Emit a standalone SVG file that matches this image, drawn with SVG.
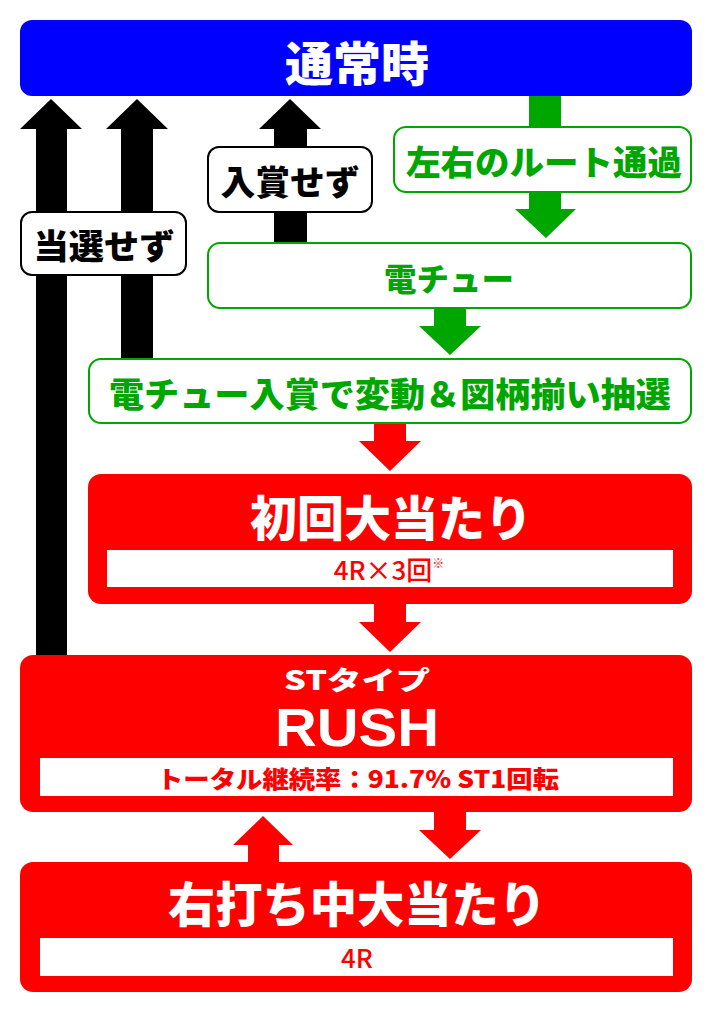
<svg xmlns="http://www.w3.org/2000/svg" width="712" height="1014" viewBox="0 0 712 1014">
<style>
.t{font-family:"Noto Sans CJK JP","Noto Sans",sans-serif;font-weight:900;text-anchor:middle;dominant-baseline:central}
.w{fill:#fff}
.g{fill:#00a600}
.k{fill:#000}
.r{fill:#ff0000}
.gbox{fill:#fff;stroke:#00a600;stroke-width:2}
.kbox{fill:#fff;stroke:#000;stroke-width:2}
.rbox{fill:#ff0000}
.inner{fill:#fff}
.n{font-family:"Noto Sans CJK JP","Noto Sans",sans-serif;font-weight:500;text-anchor:middle;fill:#ff0000}
</style>
<rect width="712" height="1014" fill="#fff"/>
<g id="connectors">
  <polygon class="k" points="36,655 67,655 67,129 82,129 51,99 20,129 36,129"/>
  <polygon class="k" points="121,359 153,359 153,129 168,129 137,99 106,129 121,129"/>
  <polygon class="k" points="274,243 307,243 307,129 321,129 290,99 259,129 274,129"/>
  <rect class="g" x="529" y="95" width="32" height="33"/>
  <polygon class="g" points="529,191 561,191 561,209 576,209 546,238 515,209 529,209"/>
  <polygon class="g" points="434,307 466,307 466,326 481,326 450,355 419,326 434,326"/>
  <polygon class="r" points="374,422 406,422 406,441 421,441 390,471 359,441 374,441"/>
  <polygon class="r" points="374,603 406,603 406,622 421,622 390,652 359,622 374,622"/>
  <polygon class="r" points="434,811 466,811 466,830 481,830 450,859 419,830 434,830"/>
  <polygon class="r" points="248,863 279,863 279,845 293,845 263,816 233,845 248,845"/>
</g>
<g id="node-normal">
  <rect x="20" y="20" width="672" height="76" rx="12" fill="#0000ff"/>
  <text class="t w" x="357" y="60" font-size="47" textLength="144" lengthAdjust="spacingAndGlyphs">通常時</text>
</g>
<g id="label-nyusho">
  <rect class="kbox" x="208" y="147" width="164" height="65" rx="11"/>
  <text class="t k" x="290" y="180" font-size="34" textLength="139" lengthAdjust="spacingAndGlyphs">入賞せず</text>
</g>
<g id="label-tosen">
  <rect class="kbox" x="21" y="212" width="165" height="63" rx="11"/>
  <text class="t k" x="104" y="244" font-size="34" textLength="141" lengthAdjust="spacingAndGlyphs">当選せず</text>
</g>
<g id="node-route">
  <rect class="gbox" x="394" y="127" width="297" height="65" rx="12"/>
  <text class="t g" x="544" y="160" font-size="34" textLength="276" lengthAdjust="spacingAndGlyphs">左右のルート通過</text>
</g>
<g id="node-denchu">
  <rect class="gbox" x="208" y="243" width="483" height="65" rx="12"/>
  <text class="t g" x="449" y="277" font-size="32" textLength="130" lengthAdjust="spacingAndGlyphs">電チュー</text>
</g>
<g id="node-lottery">
  <rect class="gbox" x="89" y="359" width="602" height="64" rx="12"/>
  <text class="t g" x="390" y="392" font-size="34" textLength="562" lengthAdjust="spacingAndGlyphs">電チュー入賞で変動＆図柄揃い抽選</text>
</g>
<g id="node-first">
  <rect class="rbox" x="88" y="474" width="604" height="130" rx="13"/>
  <text class="t w" x="391" y="515" font-size="48" textLength="282" lengthAdjust="spacingAndGlyphs">初回大当たり</text>
  <rect class="inner" x="107" y="550" width="566" height="37"/>
  <text class="n" x="389" y="580" font-size="26">4R×3回<tspan font-size="12" dy="-12">※</tspan></text>
</g>
<g id="node-rush">
  <rect class="rbox" x="20" y="655" width="672" height="157" rx="13"/>
  <text class="t w" x="357" y="678" font-size="26" textLength="146" lengthAdjust="spacingAndGlyphs">STタイプ</text>
  <text x="357" y="746" font-family="'Liberation Sans',Arial,sans-serif" font-weight="700" font-size="54" text-anchor="middle" fill="#fff" textLength="164" lengthAdjust="spacingAndGlyphs">RUSH</text>
  <rect class="inner" x="40" y="758" width="633" height="38"/>
  <text class="t r" x="358" y="777" font-size="24" font-weight="700" textLength="402" lengthAdjust="spacingAndGlyphs">トータル継続率：91.7% ST1回転</text>
</g>
<g id="node-right">
  <rect class="rbox" x="20" y="862" width="672" height="130" rx="13"/>
  <text class="t w" x="357" y="901" font-size="48" textLength="378" lengthAdjust="spacingAndGlyphs">右打ち中大当たり</text>
  <rect class="inner" x="40" y="938" width="633" height="38"/>
  <text class="n" x="357" y="968" font-size="26">4R</text>
</g>
</svg>
